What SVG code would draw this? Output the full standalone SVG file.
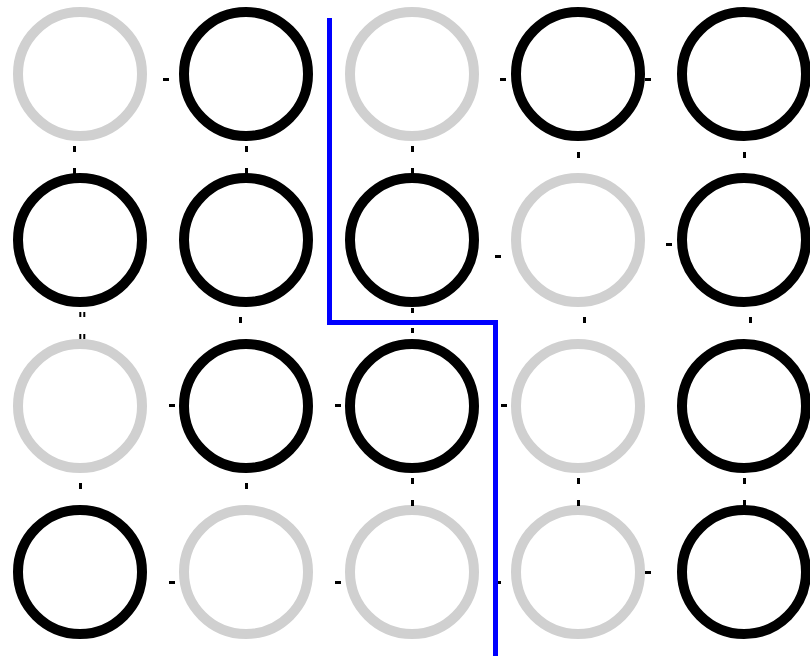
<svg xmlns="http://www.w3.org/2000/svg" width="810" height="656" viewBox="0 0 810 656">
<style>
.on{fill:none;stroke:#000;stroke-width:10}
.off{fill:none;stroke:#d0d0d0;stroke-width:10}
.t{stroke:#000;stroke-width:3;fill:none}
.cut{fill:none;stroke:#0000ff;stroke-width:5}
</style>
<rect width="810" height="656" fill="#fff"/>
<g id="nodes">
<g id="n00"><circle class="off" cx="80" cy="74" r="62"/></g>
<g id="n01"><circle class="on" cx="246" cy="74" r="62"/></g>
<g id="n02"><circle class="off" cx="412" cy="74" r="62"/></g>
<g id="n03"><circle class="on" cx="578" cy="74" r="62"/></g>
<g id="n04"><circle class="on" cx="744" cy="74" r="62"/></g>
<g id="n10"><circle class="on" cx="80" cy="240" r="62"/></g>
<g id="n11"><circle class="on" cx="246" cy="240" r="62"/></g>
<g id="n12"><circle class="on" cx="412" cy="240" r="62"/></g>
<g id="n13"><circle class="off" cx="578" cy="240" r="62"/></g>
<g id="n14"><circle class="on" cx="744" cy="240" r="62"/></g>
<g id="n20"><circle class="off" cx="80" cy="406" r="62"/></g>
<g id="n21"><circle class="on" cx="246" cy="406" r="62"/></g>
<g id="n22"><circle class="on" cx="412" cy="406" r="62"/></g>
<g id="n23"><circle class="off" cx="578" cy="406" r="62"/></g>
<g id="n24"><circle class="on" cx="744" cy="406" r="62"/></g>
<g id="n30"><circle class="on" cx="80" cy="572" r="62"/></g>
<g id="n31"><circle class="off" cx="246" cy="572" r="62"/></g>
<g id="n32"><circle class="off" cx="412" cy="572" r="62"/></g>
<g id="n33"><circle class="off" cx="578" cy="572" r="62"/></g>
<g id="n34"><circle class="on" cx="744" cy="572" r="62"/></g>
</g>
<g id="connectors">
<path class="t" d="M163 79.5h6M500 79.5h6M645 79.5h6M495 256.5h6M666 244.5h6M169 405.5h6M335 405.5h6M501 405.5h6M169 582.5h6M335 582.5h6M495 582.5h6M645 572.5h6"/>
<path class="t" d="M74.5 146v6M74.5 168v6M246.5 146v6M246.5 168v6M412.5 146v6M412.5 168v6M578.5 152v6M744.5 152v6M240.5 317v6M412.5 308v5M412.5 328v5M584.5 317v6M750.5 317v6M80.5 483v6M246.5 483v6M412.5 478v6M412.5 500v6M578.5 478v6M578.5 500v6M744.5 478v6M744.5 500v6"/>
<path d="M80.3 312v5M84.3 312v5M80.3 334v5M84.3 334v5" stroke="#000" stroke-width="2" fill="none"/>
<path class="cut" d="M329.5 18V322.5H495.5V656"/>
</g>
</svg>
